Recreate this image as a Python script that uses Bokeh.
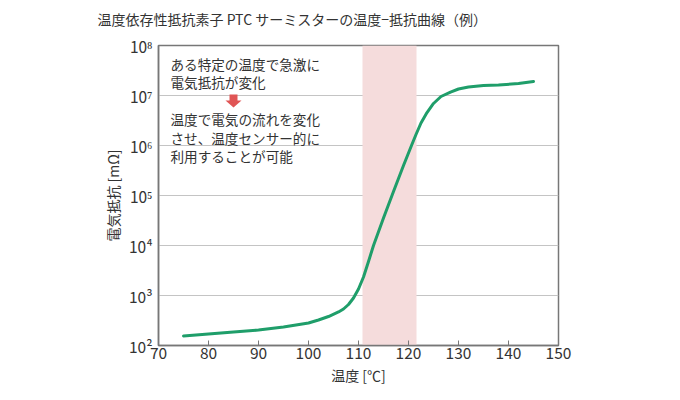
from bokeh.plotting import figure
from bokeh.models import (FixedTicker, BoxAnnotation, Label, PolyAnnotation, Range1d, Title)
from bokeh.embed import file_html
from bokeh.resources import INLINE

# ---- data ----
temperature_c = [75, 80, 85, 90, 95, 100, 102, 104, 106, 107, 108, 109, 110, 111, 112,
                 113, 115, 117, 119, 120.6, 121.5, 122.5, 123.7, 125, 126.5, 128.4,
                 130, 132, 135, 138, 142, 145]
resistance_mohm = [155, 170, 186, 204, 234, 282, 324, 380, 468, 537, 661, 891, 1350, 2340,
                   4790, 10000, 35500, 120000, 398000, 1000000, 1660000, 2820000,
                   4570000, 6920000, 9550000, 11700000, 13500000, 14800000, 15800000,
                   16200000, 17400000, 19100000]
band_start_c = 110.8
band_end_c = 121.6
x_ticks = [70, 80, 90, 100, 110, 120, 130, 140, 150]
y_ticks = [1e2, 1e3, 1e4, 1e5, 1e6, 1e7, 1e8]
y_tick_labels = ["10²", "10³", "10⁴", "10⁵", "10⁶", "10⁷", "10⁸"]

title_text = "温度依存性抵抗素子 PTC サーミスターの温度−抵抗曲線（例）"
x_label = "温度 [℃]"
y_label = "電気抵抗 [mΩ]"
note_top = ["ある特定の温度で急激に", "電気抵抗が変化"]
note_bottom = ["温度で電気の流れを変化", "させ、温度センサー的に", "利用することが可能"]

FONT = "Noto Sans CJK JP"
TXT = "#333333"

# layout: frame 158..558 px (x 70..150), 45..345 px (1e8..1e2)
L, T, FW, FH = 158, 45, 400, 300
def dx(px):
    return 70 + (px - L) * 80.0 / FW
def dy(py):
    return 10 ** (8 - (py - T) * 6.0 / FH)

p = figure(width=680, height=400, frame_width=FW, frame_height=FH,
           min_border_left=L, min_border_right=680 - L - FW,
           min_border_top=T, min_border_bottom=400 - T - FH,
           y_axis_type="log", x_range=Range1d(70, 150), y_range=Range1d(1e2, 1e8),
           output_backend="svg", toolbar_location=None)
p.title = None
p.background_fill_color = "white"
p.border_fill_color = "white"
p.outline_line_color = "#777777"
p.outline_line_width = 1.5

# spacer (next to frame) and the title above it
p.add_layout(Title(text=" ", text_font_size="13px", standoff=0), "above")
p.add_layout(Title(text=title_text, align="left", offset=97 - L, text_font=FONT,
                   text_font_size="14px", text_font_style="normal",
                   text_color=TXT, standoff=0), "above")

p.xgrid.visible = False
p.ygrid.grid_line_color = "#c4c4c4"
p.ygrid.grid_line_width = 1
p.ygrid.ticker = FixedTicker(ticks=y_ticks)

p.xaxis.ticker = FixedTicker(ticks=x_ticks)
p.xaxis.major_tick_in = 5
p.xaxis.major_tick_out = 0
p.xaxis.minor_tick_line_color = None
p.xaxis.axis_line_color = "#777777"
p.xaxis.axis_line_width = 1.5
p.xaxis.major_tick_line_color = "#777777"
p.xaxis.major_label_text_font = FONT
p.xaxis.major_label_text_font_size = "15.5px"
p.xaxis.major_label_text_color = TXT
p.xaxis.major_label_standoff = 1
p.xaxis.axis_label = x_label
p.xaxis.axis_label_text_font = FONT
p.xaxis.axis_label_text_font_size = "14px"
p.xaxis.axis_label_text_font_style = "normal"
p.xaxis.axis_label_text_color = TXT
p.xaxis.axis_label_standoff = 3

p.yaxis.ticker = FixedTicker(ticks=y_ticks)
p.yaxis.major_label_overrides = {float(v): s for v, s in zip(y_ticks, y_tick_labels)}
p.yaxis.major_tick_in = 0
p.yaxis.major_tick_out = 0
p.yaxis.minor_tick_line_color = None
p.yaxis.axis_line_color = "#777777"
p.yaxis.axis_line_width = 1.5
p.yaxis.major_label_text_font = FONT
p.yaxis.major_label_text_font_size = "15.5px"
p.yaxis.major_label_text_color = TXT
p.yaxis.major_label_standoff = 6
p.yaxis.axis_label = y_label
p.yaxis.axis_label_text_font = FONT
p.yaxis.axis_label_text_font_size = "14px"
p.yaxis.axis_label_text_font_style = "normal"
p.yaxis.axis_label_text_color = TXT
p.yaxis.axis_label_standoff = 3

band = BoxAnnotation(left=band_start_c, right=band_end_c, fill_color="#f5dcdc",
                     fill_alpha=1.0, line_color=None, level="underlay")
p.add_layout(band)

p.line(temperature_c, resistance_mohm, line_color="#1f9e6a", line_width=3,
       line_join="round", line_cap="round")

def slabel(px, py, text, size):
    # screen units are measured from the frame's bottom-left corner, y upward
    p.add_layout(Label(x=px - L, y=(T + FH) - py, x_units="screen", y_units="screen",
                       text=text, text_font=FONT, text_font_size=size,
                       text_color=TXT, text_align="left", text_baseline="middle"))

for txt, py in zip(note_top, [63, 81]):
    slabel(170, py, txt, "13.6px")
for txt, py in zip(note_bottom, [118, 137, 155]):
    slabel(170, py, txt, "13.6px")

# red down arrow
cx = 233
ax = [cx - 4, cx + 4, cx + 4, cx + 8, cx, cx - 8, cx - 4]
ay = [94, 94, 100, 100, 107, 100, 100]
p.add_layout(PolyAnnotation(xs=[dx(v) for v in ax], ys=[dy(v) for v in ay],
                            fill_color="#e05555", fill_alpha=1.0, line_color=None))

open("out.html", "w").write(file_html(p, INLINE))
